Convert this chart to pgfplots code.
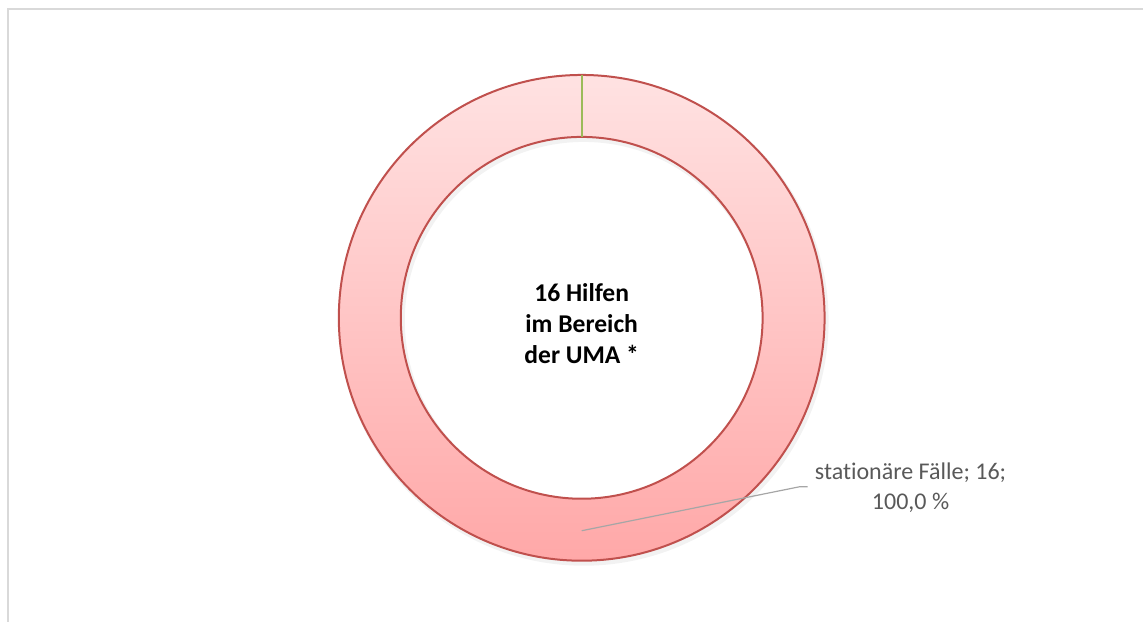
\documentclass[border=0pt]{standalone}
\usepackage{pgfplots}
\pgfplotsset{compat=1.18}
\usepackage{pgfplotstable}
\usepackage{fontspec}
\setmainfont[Ligatures=NoCommon]{Carlito}
\definecolor{ringtop}{HTML}{FFE2E2}
\definecolor{ringbot}{HTML}{FFA8A8}
\definecolor{ringedge}{HTML}{C0504D}
\definecolor{zeroline}{HTML}{9BBB59}
\definecolor{labelgray}{HTML}{595959}
\definecolor{leader}{HTML}{A6A6A6}
\definecolor{framegray}{HTML}{D9D9D9}
% slices: value (total 16); zero-valued slice shown as a thin line at the top
\pgfplotstableread{
value
16
0
}\slices
\begin{document}
\begin{tikzpicture}
\pgfplotstablegetelem{0}{value}\of\slices \let\vA\pgfplotsretval
\begin{axis}[
  width=572pt, height=311pt, scale only axis,
  xmin=0, xmax=1144, ymin=0, ymax=622,
  hide axis, clip=false,
  /pgf/number format/assume math mode=true,
]
% bounding box and frame
\path (axis cs:0,0) rectangle (axis cs:1144,622);
\draw[framegray, line width=0.6pt] (axis cs:8,0) -- (axis cs:8,613) -- (axis cs:1144,613);
% soft shadow
\fill[black, opacity=0.05, even odd rule] (axis cs:584,301) circle[radius=245] (axis cs:584,301) circle[radius=179];
% donut ring (one slice, 16 of 16 = 360 degrees)
\shade[top color=ringtop, bottom color=ringbot, even odd rule]
  (axis cs:582,304) circle[radius=243] (axis cs:582,304) circle[radius=181];
\draw[ringedge, line width=1pt] (axis cs:582,304) circle[radius=243];
\draw[ringedge, line width=1pt] (axis cs:582,304) circle[radius=181];
% zero slice boundary at 90 degrees
\draw[zeroline, line width=1.1pt] (axis cs:582,485) -- (axis cs:582,547);
% centre text
\node[font=\bfseries\fontsize{12.8}{15.5}\selectfont, align=center, text=black]
  at (axis cs:582,298) {16 Hilfen\\im Bereich\\der UMA *};
% leader line and data label
\draw[leader, line width=0.6pt] (axis cs:582,91) -- (axis cs:800,135) -- (axis cs:808,135);
\node[font=\fontsize{12}{15}\selectfont, align=center, text=labelgray]
  at (axis cs:911,134) {stationäre Fälle; \pgfmathprintnumber{\vA};\\100,0 \%};
\end{axis}
\end{tikzpicture}
\end{document}
